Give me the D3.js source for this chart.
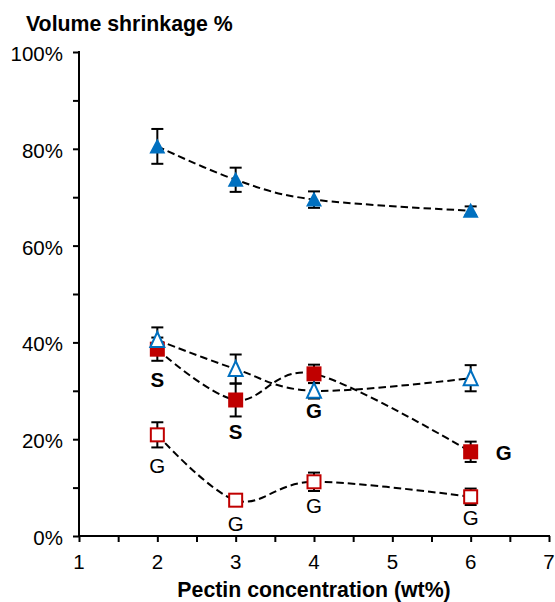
<!DOCTYPE html>
<html>
<head>
<meta charset="utf-8">
<script src="https://cdn.jsdelivr.net/npm/d3@7"></script>
<style>
    body { margin: 0; background: #fff; }
    svg { display: block; font-family: "Liberation Sans", Arial, sans-serif; }
</style>
</head>
<body>
<div id="chart"></div>
<script>
// pectin concentrations (wt%)
const conc = [2, 3, 4, 6];

// volume shrinkage % and error bars per series
const filledTri = [80.5, 73.6, 69.5, 67.2];
const filledTriErr = [3.6, 2.5, 1.7, 0.9];
const openTri = [40.5, 34.5, 30.0, 32.6];
const openTriErr = [2.6, 3.0, 1.6, 2.7];
const filledSq = [38.6, 28.1, 33.5, 17.4];
const filledSqErr = [2.4, 3.4, 1.9, 2.1];
const openSq = [20.9, 7.4, 11.2, 8.1];
const openSqErr = [2.6, 0.8, 1.9, 1.7];

// point labels
const filledSqLabels = ['S', 'S', 'G', 'G'];
const openSqLabels = ['G', 'G', 'G', 'G'];

const xTicks = [1, 2, 3, 4, 5, 6, 7];
const yTicks = [0, 20, 40, 60, 80, 100];

const width = 555, height = 602;
const blue = '#0070C0', red = '#C00000';

const svg = d3.select('#chart').append('svg')
    .attr('width', width).attr('height', height);

const x = d3.scaleLinear().domain([1, 7]).range([79, 549]);
const y = d3.scaleLinear().domain([0, 100]).range([536, 52]);

// title
svg.append('text')
    .attr('x', 26).attr('y', 31)
    .attr('font-size', 21.3).attr('font-weight', 'bold')
    .text('Volume shrinkage %');

// y axis with minor ticks
const yAxis = svg.append('g').attr('transform', `translate(${x(1)},0)`);
yAxis.call(d3.axisLeft(y).tickValues(d3.range(0, 101, 10)).tickSize(6).tickFormat(''));
yAxis.select('.domain').remove();
yAxis.selectAll('.tick line').attr('stroke', '#000').attr('stroke-width', 2);
yAxis.append('line').attr('y1', y(0) + 1).attr('y2', y(100) - 1)
    .attr('stroke', '#000').attr('stroke-width', 2);
svg.selectAll('.ylab').data(yTicks).enter().append('text')
    .attr('x', 63).attr('y', (d) => y(d) + 9)
    .attr('text-anchor', 'end').attr('font-size', 20.5)
    .text((d) => d + '%');

// x axis with minor ticks
const xAxis = svg.append('g').attr('transform', `translate(0,${y(0)})`);
xAxis.call(d3.axisBottom(x).tickValues(d3.range(1, 7.01, 0.5)).tickSize(6).tickFormat(''));
xAxis.select('.domain').remove();
xAxis.selectAll('.tick line').attr('stroke', '#000').attr('stroke-width', 2);
xAxis.append('line').attr('x1', x(1) - 1).attr('x2', x(7) + 1)
    .attr('stroke', '#000').attr('stroke-width', 2);
svg.selectAll('.xlab').data(xTicks).enter().append('text')
    .attr('x', (d) => x(d)).attr('y', 569)
    .attr('text-anchor', 'middle').attr('font-size', 20.5)
    .text((d) => d);

svg.append('text')
    .attr('x', (x(1) + x(7)) / 2).attr('y', 597)
    .attr('text-anchor', 'middle').attr('font-size', 21.3).attr('font-weight', 'bold')
    .text('Pectin concentration (wt%)');

// smoothed dashed lines
const line = d3.line()
    .x((d, i) => x(conc[i]))
    .y((d) => y(d))
    .curve(d3.curveCardinal.tension(0));

const series = [
    { vals: filledSq, err: filledSqErr, shape: 'square', filled: true, color: red },
    { vals: openSq, err: openSqErr, shape: 'square', filled: false, color: red },
    { vals: openTri, err: openTriErr, shape: 'triangle', filled: false, color: blue },
    { vals: filledTri, err: filledTriErr, shape: 'triangle', filled: true, color: blue },
];

series.forEach((s) => {
    svg.append('path')
        .attr('d', line(s.vals))
        .attr('fill', 'none')
        .attr('stroke', '#000')
        .attr('stroke-width', 2)
        .attr('stroke-dasharray', '7.5,4');
});

// error bars
series.forEach((s) => {
    const g = svg.append('g').attr('stroke', '#000').attr('stroke-width', 2);
    s.vals.forEach((v, i) => {
        const cx = x(conc[i]);
        const top = y(v + s.err[i]), bot = y(v - s.err[i]);
        g.append('line').attr('x1', cx).attr('x2', cx).attr('y1', top).attr('y2', bot);
        g.append('line').attr('x1', cx - 6).attr('x2', cx + 6).attr('y1', top).attr('y2', top);
        g.append('line').attr('x1', cx - 6).attr('x2', cx + 6).attr('y1', bot).attr('y2', bot);
    });
});

// markers
series.forEach((s) => {
    s.vals.forEach((v, i) => {
        const cx = x(conc[i]), cy = y(v);
        if (s.shape === 'square') {
            const sz = s.filled ? 15 : 13;
            svg.append('rect')
                .attr('x', cx - sz / 2).attr('y', cy - sz / 2)
                .attr('width', sz).attr('height', sz)
                .attr('fill', s.filled ? s.color : '#fff')
                .attr('stroke', s.filled ? 'none' : s.color)
                .attr('stroke-width', 2);
        } else {
            const w = s.filled ? 8 : 7;
            const pts = [[cx, cy - 8], [cx + w, cy + 7], [cx - w, cy + 7]];
            svg.append('polygon')
                .attr('points', pts.map((p) => p.join(',')).join(' '))
                .attr('fill', s.filled ? s.color : '#fff')
                .attr('stroke', s.filled ? 'none' : s.color)
                .attr('stroke-width', 2);
        }
    });
});

// point labels: offsets from the marker centre
const filledSqOffsets = [[0, 38], [0, 39], [0, 44], [25, 8]];
const openSqOffsets = [[0, 38], [0, 31], [0, 31], [0, 28]];

filledSqLabels.forEach((t, i) => {
    svg.append('text')
        .attr('x', x(conc[i]) + filledSqOffsets[i][0])
        .attr('y', y(filledSq[i]) + filledSqOffsets[i][1])
        .attr('text-anchor', filledSqOffsets[i][0] ? 'start' : 'middle')
        .attr('font-size', 20.5).attr('font-weight', 'bold')
        .text(t);
});
openSqLabels.forEach((t, i) => {
    svg.append('text')
        .attr('x', x(conc[i]) + openSqOffsets[i][0])
        .attr('y', y(openSq[i]) + openSqOffsets[i][1])
        .attr('text-anchor', 'middle')
        .attr('font-size', 20.5)
        .text(t);
});
</script>
</body>
</html>
